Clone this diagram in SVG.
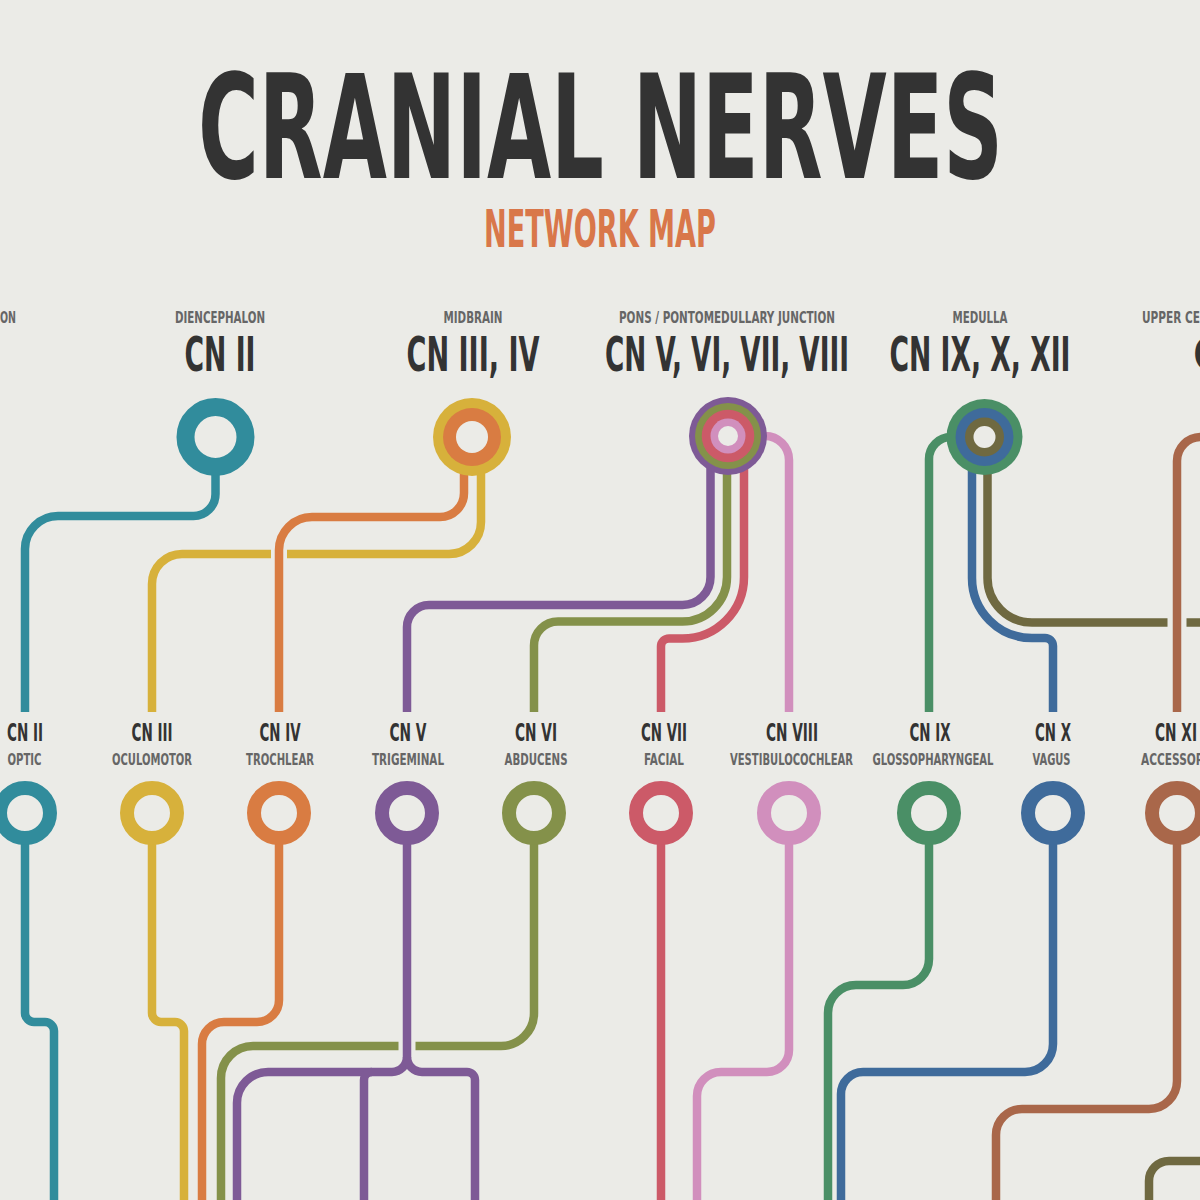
<svg xmlns="http://www.w3.org/2000/svg" width="1200" height="1200" viewBox="0 0 1200 1200">
<style>
.t{font-family:"DejaVu Sans Condensed","Liberation Sans Narrow","DejaVu Sans",sans-serif;font-stretch:condensed}
.title{font-size:145px;font-weight:bold;fill:#333333}
.sub{font-size:51px;font-weight:bold;fill:#d9774a}
.reg{font-size:16px;font-weight:bold;fill:#666666}
.big{font-size:48px;font-weight:bold;fill:#333333}
.cn{font-size:25px;font-weight:bold;fill:#333333}
.nm{font-size:16px;font-weight:bold;fill:#666666}
.ln{fill:none;stroke-width:8.5;stroke-linecap:butt}
.gap{fill:none;stroke:#ebebe7;stroke-linecap:butt}
.ring{fill:#ebebe7;stroke-width:14}
</style>
<rect width="1200" height="1200" fill="#ebebe7"/>
<g id="title">
<text class="t title" x="198" y="178" textLength="805" lengthAdjust="spacingAndGlyphs">CRANIAL NERVES</text>
<text class="t sub" x="484" y="247" textLength="232" lengthAdjust="spacingAndGlyphs">NETWORK MAP</text>
</g>
<g id="connectors">
<path class="ln" stroke="#318c9c" d="M215.5,437 V494 A22,22 0 0 1 193.5,516 H58 A33,33 0 0 0 25,549 V712"/>
<path class="ln" stroke="#d7b13b" d="M481,437 V522 A32,32 0 0 1 449,554 H182 A30,30 0 0 0 152,584 V712"/>
<path class="gap" stroke-width="16" d="M279,540 V568"/>
<path class="ln" stroke="#d97c42" d="M464,437 V493 A24,24 0 0 1 440,517 H312 A33,33 0 0 0 279,550 V712"/>
<path class="ln" stroke="#7e5a96" d="M710.5,436 V577 A28,28 0 0 1 682.5,605 H429 A22,22 0 0 0 407,627 V712"/>
<path class="ln" stroke="#84914a" d="M727,436 V577 A44.5,44.5 0 0 1 682.5,621.5 H558 A24,24 0 0 0 534,645.5 V712"/>
<path class="ln" stroke="#cc5a68" d="M744,436 V577 A61.5,61.5 0 0 1 682.5,638.5 H669 A8,8 0 0 0 661,646.5 V712"/>
<path class="ln" stroke="#d18fbd" d="M728,436 H765 A24,24 0 0 1 789,460 V712"/>
<path class="ln" stroke="#4a8f66" d="M984.5,437 H951 A22,22 0 0 0 929,459 V712"/>
<path class="ln" stroke="#3f6b9b" d="M972,437 V578 A60,60 0 0 0 1032,638 H1045 A8,8 0 0 1 1053,646 V712"/>
<path class="ln" stroke="#6f6941" d="M987.5,437 V578 A44.5,44.5 0 0 0 1032,622.5 H1215"/>
<path class="gap" stroke-width="19" d="M1177,608 V637"/>
<path class="ln" stroke="#a9674a" d="M1215,437 H1201 A24,24 0 0 0 1177,461 V712"/>
<path class="ln" stroke="#318c9c" d="M25,813 V1013 A9,9 0 0 0 34,1022 H45 A9,9 0 0 1 54,1031 V1210"/>
<path class="ln" stroke="#d7b13b" d="M152,813 V1013 A9,9 0 0 0 161,1022 H175 A9,9 0 0 1 184,1031 V1210"/>
<path class="ln" stroke="#d97c42" d="M279,813 V1000 A22,22 0 0 1 257,1022 H224 A22,22 0 0 0 202,1044 V1210"/>
<path class="ln" stroke="#84914a" d="M534,813 V1013 A33,33 0 0 1 501,1046 H253 A32,32 0 0 0 221,1078 V1210"/>
<path class="gap" stroke-width="17" d="M407,1032 V1060"/>
<path class="ln" stroke="#7e5a96" d="M407,813 V1057 A15,15 0 0 1 392,1072 H268 A31,31 0 0 0 237,1103 V1210"/>
<path class="ln" stroke="#7e5a96" d="M407,1057 A15,15 0 0 0 422,1072 H467 A8,8 0 0 1 475,1080 V1210"/>
<path class="ln" stroke="#7e5a96" d="M372,1072 A8,8 0 0 0 364,1080 V1210"/>
<path class="ln" stroke="#cc5a68" d="M661,813 V1210"/>
<path class="ln" stroke="#d18fbd" d="M789,813 V1050 A22,22 0 0 1 767,1072 H721 A24,24 0 0 0 697,1096 V1210"/>
<path class="ln" stroke="#4a8f66" d="M929,813 V959 A26,26 0 0 1 903,985 H856 A28,28 0 0 0 828,1013 V1210"/>
<path class="ln" stroke="#3f6b9b" d="M1053,813 V1044 A28,28 0 0 1 1025,1072 H863 A22,22 0 0 0 841,1094 V1210"/>
<path class="ln" stroke="#a9674a" d="M1177,813 V1081 A28,28 0 0 1 1149,1109 H1022 A26,26 0 0 0 996,1135 V1210"/>
<path class="ln" stroke="#6f6941" d="M1210,1161 H1169 A20,20 0 0 0 1149,1181 V1210"/>
</g>
<g id="origin-left">
<text class="t reg" x="0" y="323" textLength="16" lengthAdjust="spacingAndGlyphs">ON</text>
</g>
<g id="origin-cn2">
<text class="t reg" x="220" y="323" text-anchor="middle" textLength="90" lengthAdjust="spacingAndGlyphs">DIENCEPHALON</text>
<text class="t big" x="220" y="371" text-anchor="middle" textLength="71" lengthAdjust="spacingAndGlyphs">CN II</text>
<circle cx="215.5" cy="437" r="30" fill="#ebebe7" stroke="#318c9c" stroke-width="18"/>
</g>
<g id="origin-cn3-4">
<text class="t reg" x="473" y="323" text-anchor="middle" textLength="59" lengthAdjust="spacingAndGlyphs">MIDBRAIN</text>
<text class="t big" x="473" y="371" text-anchor="middle" textLength="133" lengthAdjust="spacingAndGlyphs">CN III, IV</text>
<circle cx="472" cy="437" r="39" fill="#d7b13b"/>
<circle cx="472" cy="437" r="29" fill="#d97c42"/>
<circle cx="472" cy="437" r="16" fill="#ebebe7"/>
</g>
<g id="origin-cn5-8">
<text class="t reg" x="727" y="323" text-anchor="middle" textLength="216" lengthAdjust="spacingAndGlyphs">PONS / PONTOMEDULLARY JUNCTION</text>
<text class="t big" x="727" y="371" text-anchor="middle" textLength="244" lengthAdjust="spacingAndGlyphs">CN V, VI, VII, VIII</text>
<circle cx="728" cy="436" r="39" fill="#7e5a96"/>
<circle cx="728" cy="436" r="33" fill="#84914a"/>
<circle cx="728" cy="436" r="26.3" fill="#cc5a68"/>
<circle cx="728" cy="436" r="17.5" fill="#d18fbd"/>
<circle cx="728" cy="436" r="10" fill="#ebebe7"/>
</g>
<g id="origin-cn9-12">
<text class="t reg" x="980" y="323" text-anchor="middle" textLength="55" lengthAdjust="spacingAndGlyphs">MEDULLA</text>
<text class="t big" x="980" y="371" text-anchor="middle" textLength="181" lengthAdjust="spacingAndGlyphs">CN IX, X, XII</text>
<circle cx="984.5" cy="437" r="38" fill="#4a8f66"/>
<circle cx="984.5" cy="437" r="29" fill="#3f6b9b"/>
<circle cx="984.5" cy="437" r="19.5" fill="#6f6941"/>
<circle cx="984.5" cy="437" r="11" fill="#ebebe7"/>
</g>
<g id="origin-right">
<text class="t reg" x="1142" y="323" textLength="58" lengthAdjust="spacingAndGlyphs">UPPER CE</text>
<text class="t big" x="1193" y="371">C</text>
</g>
<g id="node-cn2">
<text class="t cn" x="25" y="741" text-anchor="middle" textLength="36" lengthAdjust="spacingAndGlyphs">CN II</text>
<text class="t nm" x="24.5" y="765" text-anchor="middle" textLength="34" lengthAdjust="spacingAndGlyphs">OPTIC</text>
<circle class="ring" cx="25" cy="813" r="25" stroke="#318c9c"/>
</g>
<g id="node-cn3">
<text class="t cn" x="152" y="741" text-anchor="middle" textLength="41" lengthAdjust="spacingAndGlyphs">CN III</text>
<text class="t nm" x="152" y="765" text-anchor="middle" textLength="80" lengthAdjust="spacingAndGlyphs">OCULOMOTOR</text>
<circle class="ring" cx="152" cy="813" r="25" stroke="#d7b13b"/>
</g>
<g id="node-cn4">
<text class="t cn" x="280" y="741" text-anchor="middle" textLength="41" lengthAdjust="spacingAndGlyphs">CN IV</text>
<text class="t nm" x="280" y="765" text-anchor="middle" textLength="68" lengthAdjust="spacingAndGlyphs">TROCHLEAR</text>
<circle class="ring" cx="279" cy="813" r="25" stroke="#d97c42"/>
</g>
<g id="node-cn5">
<text class="t cn" x="408" y="741" text-anchor="middle" textLength="37" lengthAdjust="spacingAndGlyphs">CN V</text>
<text class="t nm" x="408" y="765" text-anchor="middle" textLength="72" lengthAdjust="spacingAndGlyphs">TRIGEMINAL</text>
<circle class="ring" cx="407" cy="813" r="25" stroke="#7e5a96"/>
</g>
<g id="node-cn6">
<text class="t cn" x="536" y="741" text-anchor="middle" textLength="42" lengthAdjust="spacingAndGlyphs">CN VI</text>
<text class="t nm" x="536" y="765" text-anchor="middle" textLength="63" lengthAdjust="spacingAndGlyphs">ABDUCENS</text>
<circle class="ring" cx="534" cy="813" r="25" stroke="#84914a"/>
</g>
<g id="node-cn7">
<text class="t cn" x="664" y="741" text-anchor="middle" textLength="46" lengthAdjust="spacingAndGlyphs">CN VII</text>
<text class="t nm" x="664" y="765" text-anchor="middle" textLength="40" lengthAdjust="spacingAndGlyphs">FACIAL</text>
<circle class="ring" cx="661" cy="813" r="25" stroke="#cc5a68"/>
</g>
<g id="node-cn8">
<text class="t cn" x="792" y="741" text-anchor="middle" textLength="52" lengthAdjust="spacingAndGlyphs">CN VIII</text>
<text class="t nm" x="791.5" y="765" text-anchor="middle" textLength="123" lengthAdjust="spacingAndGlyphs">VESTIBULOCOCHLEAR</text>
<circle class="ring" cx="789" cy="813" r="25" stroke="#d18fbd"/>
</g>
<g id="node-cn9">
<text class="t cn" x="930" y="741" text-anchor="middle" textLength="41" lengthAdjust="spacingAndGlyphs">CN IX</text>
<text class="t nm" x="933" y="765" text-anchor="middle" textLength="121" lengthAdjust="spacingAndGlyphs">GLOSSOPHARYNGEAL</text>
<circle class="ring" cx="929" cy="813" r="25" stroke="#4a8f66"/>
</g>
<g id="node-cn10">
<text class="t cn" x="1053" y="741" text-anchor="middle" textLength="36" lengthAdjust="spacingAndGlyphs">CN X</text>
<text class="t nm" x="1051.5" y="765" text-anchor="middle" textLength="38" lengthAdjust="spacingAndGlyphs">VAGUS</text>
<circle class="ring" cx="1053" cy="813" r="25" stroke="#3f6b9b"/>
</g>
<g id="node-cn11">
<text class="t cn" x="1176" y="741" text-anchor="middle" textLength="42" lengthAdjust="spacingAndGlyphs">CN XI</text>
<text class="t nm" x="1141" y="765" textLength="70" lengthAdjust="spacingAndGlyphs">ACCESSORY</text>
<circle class="ring" cx="1177" cy="813" r="25" stroke="#a9674a"/>
</g>
</svg>
